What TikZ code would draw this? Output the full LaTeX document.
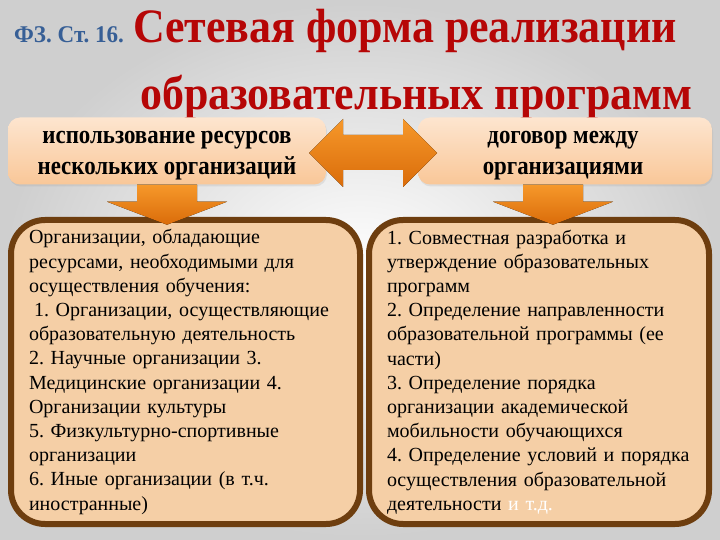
\documentclass[tikz,border=0pt]{standalone}
\usepackage{fontspec}
\setmainfont{Liberation Serif}
\usetikzlibrary{positioning, calc, shadows}
\definecolor{titlered}{RGB}{182,6,6}
\definecolor{lawblue}{RGB}{55,95,150}
\definecolor{peachtop}{RGB}{253,229,207}
\definecolor{peachbot}{RGB}{249,199,152}
\definecolor{boxfill}{RGB}{245,207,166}
\definecolor{boxline}{RGB}{110,62,15}
\definecolor{arrowlight}{RGB}{246,152,42}
\definecolor{arrowdark}{RGB}{218,108,10}

\tikzset{
  narrow/.style={xscale=#1, transform shape},
  titletext/.style={titlered, narrow=0.915, anchor=base west, inner sep=0pt,
    font=\bfseries\fontsize{48}{56}\selectfont},
  topbox/.style={rounded corners=12pt, minimum width=318pt, minimum height=67pt,
    top color=peachtop, bottom color=peachbot,
    drop shadow={shadow xshift=1pt, shadow yshift=-2pt, opacity=0.15}},
  toptext/.style={narrow=0.88, align=center, inner sep=0pt,
    font=\bfseries\fontsize{26}{31}\selectfont},
  listbox/.style={draw=boxline, line width=6pt, fill=boxfill, rounded corners=34pt,
    inner xsep=18pt, align=left, font=\fontsize{20}{24.2}\selectfont},
  blockarrow/.style={top color=arrowlight, bottom color=arrowdark}
}

\begin{document}
\frenchspacing
\begin{tikzpicture}[x=1pt, y=-1pt]
  \useasboundingbox (0,0) rectangle (720,540);
  % background
  \shade[inner color=white, outer color=gray!38] (0,0) rectangle (720,540);

  % --- title ---
  \node[lawblue, narrow=0.96, anchor=base west, inner sep=0pt, font=\bfseries\fontsize{24}{28}\selectfont] (law) at (14,43) {ФЗ. Ст. 16.};
  \node[titletext] (title) at (133,43) {Сетевая форма реализации};
  \node[titletext] (subtitle) at (140,110) {образовательных программ};

  % --- top boxes ---
  \node[topbox] (useres) at (167,151) {};
  \node[topbox, minimum width=294pt] (contract) at (565,151) {};
  \node[toptext] (useres text) at ($(useres)+(0,5)$) {использование ресурсов\\нескольких организаций};
  \node[toptext] (contract text) at ($(contract)+(-2,5)$) {договор между\\организациями};

  % double arrow between them
  \fill[blockarrow, shift={($(useres.east)!0.5!(contract.west)+(1,2)$)}]
    (-64,0) -- (-30,-34) -- (-30,-18) -- (30,-18) -- (30,-34) -- (64,0)
    -- (30,34) -- (30,17) -- (-30,17) -- (-30,34) -- cycle;

  % --- lists ---
  \node[listbox, minimum width=349pt, minimum height=304pt, text width=313pt] (reslist) at (185.5,372)
    {Организации, обладающие\\
     ресурсами, необходимыми для\\
     осуществления обучения:\\
     \hspace*{5pt}1. Организации, осуществляющие\\
     образовательную деятельность\\
     2. Научные организации 3.\\
     Медицинские организации 4.\\
     Организации культуры\\
     5. Физкультурно-спортивные\\
     организации\\
     6. Иные организации (в т.ч.\\
     иностранные)};
  \node[listbox, minimum width=340pt, minimum height=304pt, text width=304pt] (contlist) at (539,372)
    {1. Совместная разработка и\\
     утверждение образовательных\\
     программ\\
     2. Определение направленности\\
     образовательной программы (ее\\
     части)\\
     3. Определение порядка\\
     организации академической\\
     мобильности обучающихся\\
     4. Определение условий и порядка\\
     осуществления образовательной\\
     деятельности {\color{white}и т.д.}};

  % down arrows
  \fill[blockarrow, shift={(useres.south)}]
    (-30,0) -- (30,0) -- (30,17) -- (60,17) -- (0,40) -- (-60,17) -- (-30,17) -- cycle;
  \fill[blockarrow, shift={($(contract.south)+(-12,0)$)}]
    (-30,0) -- (30,0) -- (30,17) -- (60,17) -- (0,40) -- (-60,17) -- (-30,17) -- cycle;
\end{tikzpicture}
\end{document}
